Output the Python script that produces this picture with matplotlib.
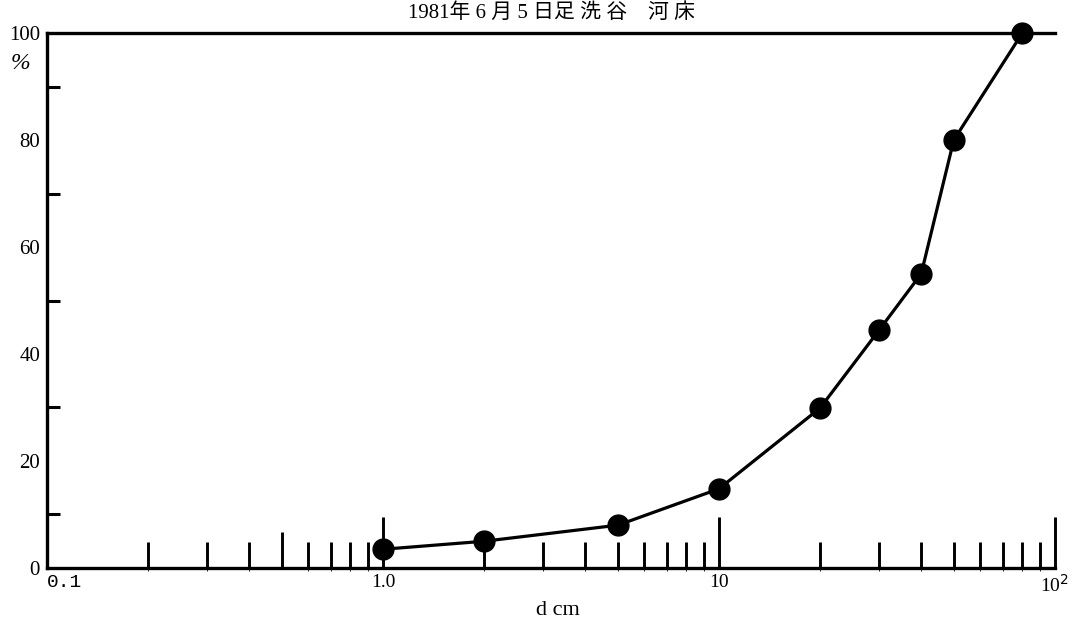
import matplotlib
matplotlib.use('Agg')
import matplotlib.pyplot as plt
import matplotlib.ticker as ticker

plt.rcParams['font.family'] = ['Liberation Serif', 'Noto Sans CJK JP', 'DejaVu Sans']

# 粒径 (cm) と 通過百分率 (%)
d_cm = [1.0, 2.0, 5.0, 10.0, 20.0, 30.0, 40.0, 50.0, 80.0]
pct = [3.5, 5.0, 8.0, 14.8, 29.9, 44.5, 55.0, 80.0, 100.0]

x_major = [0.1, 1.0, 10, 100]
x_major_labels = ['0.1', '1.0', '10', '10$^2$']
x_minor = [0.2, 0.3, 0.4, 0.6, 0.7, 0.8, 0.9,
           2, 3, 4, 5, 6, 7, 8, 9,
           20, 30, 40, 50, 60, 70, 80, 90]
y_labels = [0, 20, 40, 60, 80, 100]
y_ticks = [10, 30, 50, 70, 90]

fig = plt.figure(figsize=(10.78, 6.23), dpi=100)
ax = fig.add_axes([0.0436, 0.0883, 0.935, 0.8587])

ax.plot(d_cm, pct, color='black', lw=2.3, marker='o', markersize=15,
        clip_on=False, zorder=5)

ax.set_xscale('log')
ax.set_xlim(0.1, 100)
ax.set_ylim(0, 100)

for s in ['left', 'bottom', 'top']:
    ax.spines[s].set_linewidth(2.4)
ax.spines['right'].set_visible(False)

# x 目盛
ax.xaxis.set_major_locator(ticker.FixedLocator(x_major))
ax.xaxis.set_major_formatter(ticker.FixedFormatter(x_major_labels))
ax.xaxis.set_minor_locator(ticker.FixedLocator(x_minor))
ax.xaxis.set_minor_formatter(ticker.NullFormatter())
ax.tick_params(axis='x', which='major', direction='in', length=37, width=2.1,
               labelsize=14, pad=4)
ax.tick_params(axis='x', which='minor', direction='in', length=19, width=2.1)
ax.get_xticklabels()[0].set_fontfamily(['Liberation Mono'])
ax.get_xticklabels()[0].set_horizontalalignment('left')

# 0.5 の目盛は少し長い
sec = ax.secondary_xaxis('bottom')
sec.set_xticks([0.5])
sec.set_xticklabels([])
sec.tick_params(direction='in', length=26, width=2.1)
sec.spines['bottom'].set_visible(False)

# y 目盛
ax.yaxis.set_major_locator(ticker.FixedLocator(y_labels))
ax.yaxis.set_minor_locator(ticker.FixedLocator(y_ticks))
ax.tick_params(axis='y', which='major', length=0, labelsize=15, pad=5)
ax.tick_params(axis='y', which='minor', direction='in', length=9, width=2.2)

ax.text(-0.026, 0.943, '%', transform=ax.transAxes, ha='center', va='center',
        fontsize=17, style='italic')

ax.set_xlabel('d cm', fontsize=16)
ax.xaxis.set_label_coords(0.507, -0.079)
ax.xaxis.label.set_verticalalignment('center')
fig.text(0.512, 0.979, '1981年 6 月 5 日足 洗 谷　河 床', ha='center', va='center',
         fontsize=15)

fig.savefig('out.png', dpi=100)
